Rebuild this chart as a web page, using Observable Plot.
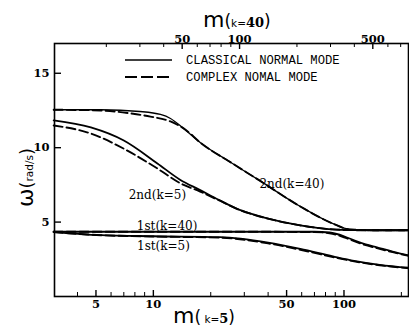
<!DOCTYPE html>
<html><head><meta charset="utf-8">
<script src="https://cdn.jsdelivr.net/npm/d3@7"></script>
<script src="https://cdn.jsdelivr.net/npm/@observablehq/plot@0.6"></script>
<style>body{margin:0;background:#fff}svg{display:block}</style>
</head><body><div id="chart"></div>
<script>
// ---- data (m for k=5 on bottom axis, omega in rad/s) ----
const m_2nd_k40_solid = [3, 5.3, 8.5, 10.9, 12.3, 14.4, 17.6, 26, 36, 59, 87, 107, 150, 220];
const w_2nd_k40_solid = [12.55, 12.55, 12.43, 12.23, 11.96, 11.29, 10.35, 8.94, 7.8, 6.05, 4.91, 4.51, 4.45, 4.45];
const m_2nd_k40_dash  = [3, 5.3, 7.6, 9.65, 12.3, 14.7, 17.6, 26, 36, 59, 87, 107, 150, 220];
const w_2nd_k40_dash  = [12.55, 12.5, 12.3, 12.09, 11.76, 11.22, 10.35, 8.94, 7.8, 6.05, 4.91, 4.51, 4.45, 4.45];

const m_2nd_k5_solid = [3, 4.7, 7, 10.5, 13.8, 17.6, 22, 28.6, 39.5, 59, 87, 107, 150, 220];
const w_2nd_k5_solid = [11.83, 11.36, 10.48, 8.94, 7.85, 7.15, 6.5, 5.8, 5.25, 4.78, 4.51, 4.46, 4.45, 4.45];
const m_2nd_k5_dash  = [3, 4.7, 7, 10.5, 13.8, 17.6, 22, 28.6, 39.5, 59, 87, 107, 150, 220];
const w_2nd_k5_dash  = [11.49, 10.95, 9.93, 8.6, 7.62, 7.05, 6.47, 5.8, 5.25, 4.78, 4.51, 4.46, 4.45, 4.45];

const m_1st_k40 = [3, 30, 70, 84, 100, 113, 130, 149, 180, 220];
const w_1st_k40_solid = [4.35, 4.35, 4.35, 4.3, 4.05, 3.77, 3.5, 3.3, 3.02, 2.75];
const w_1st_k40_dash  = [4.35, 4.35, 4.33, 4.25, 3.98, 3.72, 3.45, 3.25, 2.98, 2.72];

const m_1st_k5 = [3, 5.3, 10, 22.4, 40, 59, 87.5, 113, 154, 220];
const w_1st_k5_solid = [4.33, 4.12, 4.05, 3.99, 3.62, 3.2, 2.7, 2.4, 2.13, 1.93];
const w_1st_k5_dash  = [4.33, 4.12, 4.03, 3.95, 3.57, 3.14, 2.65, 2.36, 2.1, 1.9];

// ticks
const xLabelTicks = [5, 10, 50, 100];
const xMinorTicks = [4, 6, 7, 8, 9, 20, 30, 40, 60, 70, 80, 90, 200];
const yTicks = [5, 10, 15];
const topLabelTicks = [50, 100, 500];          // m for k=40
const topMinorTicks = [20, 30, 40, 60, 70, 80, 90, 200, 300, 400, 600, 700];
const k40PerK5 = 3.53;                          // m(k=40) / m(k=5) at the same position

// curve annotations
const curveLabels = ["2nd(k=5)", "2nd(k=40)", "1st(k=40)", "1st(k=5)"];
const curveLabelM = [10.5, 53.3, 11.8, 11.3];
const curveLabelW = [6.79, 7.53, 4.71, 3.37];

// ---- build tables ----
function rows(id, ms, ws) { return ms.map((m, i) => ({id, m, w: ws[i]})); }
const solid = [
  ...rows("2nd_k40", m_2nd_k40_solid, w_2nd_k40_solid),
  ...rows("2nd_k5", m_2nd_k5_solid, w_2nd_k5_solid),
  ...rows("1st_k40", m_1st_k40, w_1st_k40_solid),
  ...rows("1st_k5", m_1st_k5, w_1st_k5_solid)
];
const dashed = [
  ...rows("2nd_k40", m_2nd_k40_dash, w_2nd_k40_dash),
  ...rows("2nd_k5", m_2nd_k5_dash, w_2nd_k5_dash),
  ...rows("1st_k40", m_1st_k40, w_1st_k40_dash),
  ...rows("1st_k5", m_1st_k5, w_1st_k5_dash)
];
const labels = curveLabels.map((t, i) => ({t, m: curveLabelM[i], w: curveLabelW[i]}));

const W = 409, H = 334, ML = 54, MR = 1, MT = 43, MB = 38;
const PW = W - ML - MR, PH = H - MT - MB;
const numFont = "DejaVu Serif";

const chart = Plot.plot({
  width: W, height: H,
  marginLeft: ML, marginRight: MR, marginTop: MT, marginBottom: MB,
  x: {type: "log", domain: [3.03, 218], axis: null},
  y: {domain: [0, 17], axis: null},
  style: {background: "white", color: "black", overflow: "visible"},
  marks: [
    Plot.frame({stroke: "black", strokeWidth: 1.6}),
    Plot.tickX(xLabelTicks, {x: d => d, insetTop: PH - 6, stroke: "black", strokeWidth: 1.4}),
    Plot.tickX(xMinorTicks, {x: d => d, insetTop: PH - 4, stroke: "black", strokeWidth: 1}),
    Plot.tickX(topLabelTicks, {x: d => d / k40PerK5, insetBottom: PH - 6, stroke: "black", strokeWidth: 1.4}),
    Plot.tickX(topMinorTicks, {x: d => d / k40PerK5, insetBottom: PH - 4, stroke: "black", strokeWidth: 1}),
    Plot.tickY(yTicks, {y: d => d, insetRight: PW - 7, stroke: "black", strokeWidth: 1.4}),
    Plot.text(xLabelTicks, {x: d => d, text: d => String(d), frameAnchor: "bottom", dy: 11,
      fontFamily: numFont, fontWeight: "bold", fontSize: 11.5}),
    Plot.text(topLabelTicks, {x: d => d / k40PerK5, text: d => String(d), frameAnchor: "top", dy: -9,
      fontFamily: numFont, fontWeight: "bold", fontSize: 11.5}),
    Plot.text(yTicks, {y: d => d, text: d => String(d), frameAnchor: "left", textAnchor: "end", dx: -5,
      fontFamily: numFont, fontWeight: "bold", fontSize: 11.5}),
    Plot.line(solid.filter(d => d.id === "2nd_k40"), {x: "m", y: "w", z: "id", stroke: "black", strokeWidth: 1.3, curve: "monotone-x"}),
    Plot.line(solid.filter(d => d.id !== "2nd_k40"), {x: "m", y: "w", z: "id", stroke: "black", strokeWidth: 1.8, curve: "monotone-x"}),
    Plot.line(dashed, {x: "m", y: "w", z: "id", stroke: "black", strokeWidth: 1.9, strokeDasharray: "9,4", curve: "monotone-x"}),
    Plot.text(labels, {x: "m", y: "w", text: "t", fontFamily: numFont, fontSize: 12, fill: "black", ariaLabel: "curve-label"})
  ]
});

document.getElementById("chart").appendChild(chart);
const svg = d3.select(chart);

// mixed-size curve labels
svg.selectAll('g[aria-label="curve-label"] text').each(function () {
  const el = d3.select(this);
  const t = el.text();
  const mm = t.match(/^(\d)(nd|st)\((k=)(\d+)\)$/);
  if (!mm) return;
  el.text(null);
  el.append("tspan").attr("font-weight", "bold").attr("font-size", 13).text(mm[1]);
  el.append("tspan").attr("font-size", 10).attr("font-family", "DejaVu Serif").text(mm[2]);
  el.append("tspan").attr("font-size", 17).attr("font-family", "DejaVu Sans").attr("font-weight", 200).text("(");
  el.append("tspan").attr("font-size", 10).attr("font-family", "DejaVu Sans").text(mm[3]);
  el.append("tspan").attr("font-weight", "bold").attr("font-size", 12.5).text(mm[4]);
  el.append("tspan").attr("font-size", 17).attr("font-family", "DejaVu Sans").attr("font-weight", 200).text(")");
});

// axis titles
function axisTitle(g, sub, num) {
  g.attr("text-anchor", "start");
  g.append("tspan").attr("font-family", "DejaVu Sans").attr("font-size", 22).text("m");
  g.append("tspan").attr("font-family", "DejaVu Sans").attr("font-size", 17).text("(");
  g.append("tspan").attr("font-family", "DejaVu Sans").attr("font-size", 10.5).text(sub);
  g.append("tspan").attr("font-family", numFont).attr("font-weight", "bold").attr("font-size", 13).text(num);
  g.append("tspan").attr("font-family", "DejaVu Sans").attr("font-size", 17).text(")");
}
axisTitle(svg.append("text").attr("x", 203).attr("y", 27).attr("fill", "black"), "k=", "40");
axisTitle(svg.append("text").attr("x", 173).attr("y", 323).attr("fill", "black"), "\u00a0k=", "5");

const yt = svg.append("text").attr("transform", "translate(33,207) rotate(-90)").attr("fill", "black").attr("text-anchor", "start");
yt.append("tspan").attr("font-family", "DejaVu Sans").attr("font-size", 22).text("ω");
yt.append("tspan").attr("font-family", "DejaVu Sans").attr("font-size", 18).text("(");
yt.append("tspan").attr("font-family", "DejaVu Sans").attr("font-size", 10.5).text("rad/s");
yt.append("tspan").attr("font-family", "DejaVu Sans").attr("font-size", 18).text(")");

// legend
const lg = svg.append("g").attr("text-anchor", "start");
lg.append("line").attr("x1", 125).attr("x2", 172).attr("y1", 60).attr("y2", 60).attr("stroke", "black").attr("stroke-width", 1.6);
lg.append("line").attr("x1", 125).attr("x2", 172).attr("y1", 77).attr("y2", 77).attr("stroke", "black").attr("stroke-width", 2).attr("stroke-dasharray", "12,4");
lg.append("text").attr("x", 186).attr("y", 64).attr("font-family", "Liberation Mono").attr("font-size", 12.2).attr("fill", "black").text("CLASSICAL NORMAL MODE");
lg.append("text").attr("x", 186).attr("y", 81).attr("font-family", "Liberation Mono").attr("font-size", 12.2).attr("fill", "black").text("COMPLEX NOMAL MODE");
</script>
</body></html>
